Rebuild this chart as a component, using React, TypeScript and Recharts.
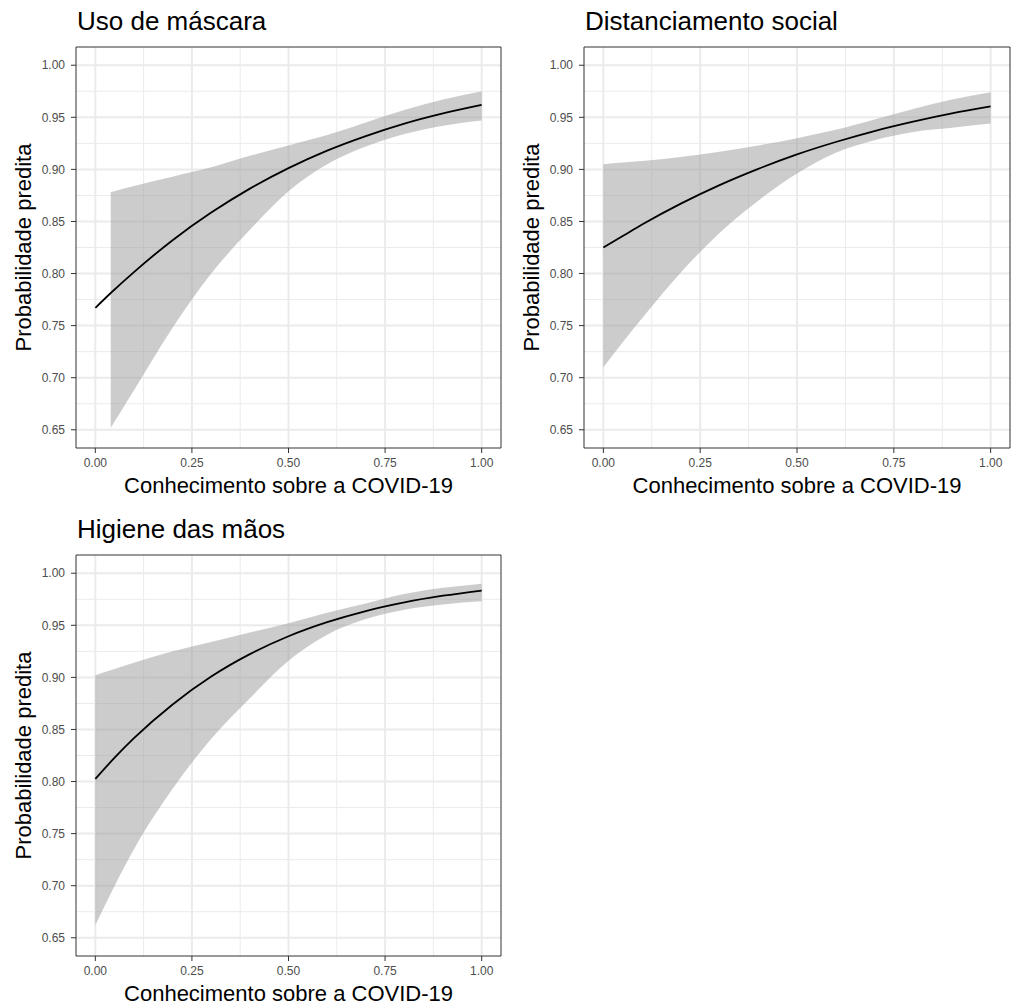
import { Area, CartesianGrid, ComposedChart, Line, ReferenceArea, XAxis, YAxis } from 'recharts'

const FONT = '"Liberation Sans", Arial, Helvetica, sans-serif'

const xBreaks = [0, 0.25, 0.5, 0.75, 1]
const xMinor = [0.125, 0.375, 0.625, 0.875]
const yBreaks = [0.65, 0.7, 0.75, 0.8, 0.85, 0.9, 0.95, 1]
const yMinor = [0.675, 0.725, 0.775, 0.825, 0.875, 0.925, 0.975]

const X_DOMAIN: [number, number] = [-0.05, 1.05]
const Y_DOMAIN: [number, number] = [0.6325, 1.0175]

const xTitle = 'Conhecimento sobre a COVID-19'
const yTitle = 'Probabilidade predita'

// Uso de máscara
const maskKnowledge = [0, 0.04, 0.1, 0.2, 0.3, 0.4, 0.5, 0.6, 0.7, 0.8, 0.9, 1]
const maskFit = [0.767, 0.7813, 0.8014, 0.832, 0.8585, 0.8815, 0.9012, 0.918, 0.932, 0.944, 0.9538, 0.962]
const maskLower = [null, 0.652, 0.688, 0.748, 0.8, 0.842, 0.879, 0.905, 0.922, 0.934, 0.942, 0.947]
const maskUpper = [null, 0.878, 0.884, 0.893, 0.902, 0.913, 0.923, 0.933, 0.945, 0.957, 0.967, 0.975]

// Distanciamento social
const distKnowledge = [0, 0.05, 0.1, 0.2, 0.3, 0.4, 0.5, 0.6, 0.7, 0.8, 0.9, 1]
const distFit = [0.825, 0.836, 0.847, 0.8671, 0.8849, 0.9005, 0.9144, 0.9263, 0.9368, 0.9458, 0.9537, 0.9604]
const distLower = [0.71, 0.734, 0.757, 0.801, 0.839, 0.87, 0.896, 0.916, 0.928, 0.936, 0.94, 0.944]
const distUpper = [0.905, 0.9065, 0.908, 0.912, 0.917, 0.923, 0.93, 0.938, 0.948, 0.958, 0.967, 0.974]

// Higiene das mãos
const handKnowledge = [0, 0.05, 0.1, 0.2, 0.3, 0.4, 0.5, 0.6, 0.7, 0.8, 0.9, 1]
const handFit = [0.8025, 0.8229, 0.8416, 0.874, 0.9008, 0.9223, 0.9395, 0.953, 0.9637, 0.972, 0.9784, 0.9834]
const handLower = [0.662, 0.7, 0.735, 0.793, 0.841, 0.88, 0.916, 0.941, 0.956, 0.965, 0.97, 0.973]
const handUpper = [0.902, 0.908, 0.914, 0.925, 0.934, 0.943, 0.952, 0.962, 0.971, 0.98, 0.986, 0.99]

type Row = { x: number; fit: number; band: [number, number] | null }

function buildRows(xs: number[], fit: number[], lower: (number | null)[], upper: (number | null)[]): Row[] {
  return xs.map((x, i) => ({
    x,
    fit: fit[i],
    band: lower[i] == null || upper[i] == null ? null : [lower[i] as number, upper[i] as number],
  }))
}

const tickStyle = { fill: '#4d4d4d', fontSize: 12, fontFamily: FONT }

function Panel({ rows, left, top, width, height, marginRight }: {
  rows: Row[]; left: number; top: number; width: number; height: number; marginRight: number
}) {
  return (
    <div style={{ position: 'absolute', left, top }}>
      <ComposedChart width={width} height={height} data={rows} margin={{ top: 47, right: marginRight, bottom: 0, left: 0 }}>
        <CartesianGrid stroke="#ebebeb" strokeWidth={1} verticalValues={xMinor} horizontalValues={yMinor} />
        <CartesianGrid stroke="#ebebeb" strokeWidth={2} verticalValues={xBreaks} horizontalValues={yBreaks} />
        <XAxis
          type="number"
          dataKey="x"
          domain={X_DOMAIN}
          allowDataOverflow
          ticks={xBreaks}
          tickFormatter={(v: number) => v.toFixed(2)}
          height={32}
          axisLine={false}
          tickLine={{ stroke: '#333333' }}
          tickSize={5}
          tickMargin={5}
          tick={tickStyle}
          interval={0}
        />
        <YAxis
          type="number"
          domain={Y_DOMAIN}
          allowDataOverflow
          ticks={yBreaks}
          tickFormatter={(v: number) => v.toFixed(2)}
          width={76}
          axisLine={false}
          tickLine={{ stroke: '#333333' }}
          tickSize={5}
          tickMargin={6}
          tick={tickStyle}
          interval={0}
        />
        <Area
          type="monotone"
          dataKey="band"
          stroke="none"
          fill="#999999"
          fillOpacity={0.5}
          isAnimationActive={false}
          activeDot={false}
        />
        <Line
          type="monotone"
          dataKey="fit"
          stroke="#000000"
          strokeWidth={1.8}
          dot={false}
          activeDot={false}
          isAnimationActive={false}
        />
        <ReferenceArea
          x1={X_DOMAIN[0]}
          x2={X_DOMAIN[1]}
          y1={Y_DOMAIN[0]}
          y2={Y_DOMAIN[1]}
          fill="none"
          stroke="#333333"
          strokeWidth={1}
          ifOverflow="visible"
        />
      </ComposedChart>
    </div>
  )
}

function Titles({ title, plotLeft, plotRight, plotTop, plotBottom, yTitleX }: {
  title: string; plotLeft: number; plotRight: number; plotTop: number; plotBottom: number; yTitleX: number
}) {
  const cx = (plotLeft + plotRight) / 2
  const cy = (plotTop + plotBottom) / 2
  return (
    <g fontFamily={FONT} fill="#000000">
      <text x={plotLeft + 1} y={plotTop - 17.5} fontSize={26}>{title}</text>
      <text x={cx} y={plotBottom + 45} fontSize={22} textAnchor="middle">{xTitle}</text>
      <text x={yTitleX} y={cy} fontSize={22} textAnchor="middle" transform={`rotate(-90 ${yTitleX} ${cy})`}>{yTitle}</text>
    </g>
  )
}

export default function App() {
  const maskRows = buildRows(maskKnowledge, maskFit, maskLower, maskUpper)
  const distRows = buildRows(distKnowledge, distFit, distLower, distUpper)
  const handRows = buildRows(handKnowledge, handFit, handLower, handUpper)

  return (
    <div style={{ position: 'absolute', left: 0, top: 0, width: 1011, height: 1005, background: '#ffffff', fontFamily: FONT }}>
      <Panel rows={maskRows} left={0} top={0} width={505} height={480} marginRight={4} />
      <Panel rows={distRows} left={508} top={0} width={503} height={480} marginRight={1} />
      <Panel rows={handRows} left={0} top={508} width={505} height={480} marginRight={4} />
      <svg width={1011} height={1005} style={{ position: 'absolute', left: 0, top: 0, pointerEvents: 'none' }}>
        <Titles title="Uso de máscara" plotLeft={76} plotRight={501} plotTop={47} plotBottom={448} yTitleX={31} />
        <Titles title="Distanciamento social" plotLeft={584} plotRight={1010} plotTop={47} plotBottom={448} yTitleX={539} />
        <Titles title="Higiene das mãos" plotLeft={76} plotRight={501} plotTop={555} plotBottom={956} yTitleX={31} />
      </svg>
    </div>
  )
}
